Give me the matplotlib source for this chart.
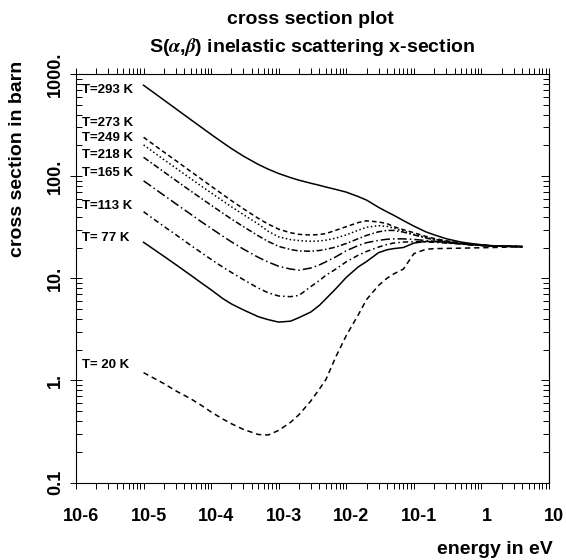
import matplotlib
matplotlib.use('Agg')
import matplotlib.pyplot as plt
import matplotlib.transforms as mtransforms
from matplotlib.ticker import FixedLocator, LogLocator, NullFormatter

plt.rcParams['font.family'] = ['Liberation Sans', 'DejaVu Sans']
plt.rcParams['font.weight'] = 'bold'
plt.rcParams['mathtext.fontset'] = 'stix'

# energy grid (eV)
energy = [1e-5, 2e-5, 3e-5, 5e-5, 7e-5, 1e-4, 1.5e-4, 2e-4, 3e-4, 5e-4, 7e-4,
          1e-3, 1.5e-3, 2e-3, 3e-3, 4e-3, 5e-3, 7e-3, 1e-2, 1.5e-2, 2e-2,
          3e-2, 4e-2, 5e-2, 7e-2, 0.1, 0.15, 0.2, 0.3, 0.5, 0.7, 1.0, 1.5,
          2.0, 3.0, 4.0]

# cross sections (barn) per temperature
xs_293 = [776, 556, 457, 357, 304, 256, 212, 186, 157, 130, 117,
          106, 96.6, 91.2, 85.1, 81.3, 78.2, 74.1, 69.7, 63.1, 58.2,
          49.5, 44.7, 41.5, 36.7, 32.4, 28.5, 26.6, 24.4, 22.6, 21.9, 21.3, 20.8,
          20.6, 20.5, 20.4]
xs_273 = [240, 172, 142, 111, 94.6, 79.8, 65.8, 57.5, 47.9, 38.5, 33.9,
          30.2, 27.9, 26.9, 26.5, 26.8, 27.4, 29.5, 32.0, 35.1, 36.5,
          35.6, 34.3, 32.0, 29.9, 27.9, 25.7, 24.5, 23.3, 22.1, 21.6, 21.1, 20.7,
          20.6, 20.5, 20.4]
xs_249 = [202, 145, 120, 94.4, 80.7, 68.5, 57, 50.1, 42, 33.9, 28.8,
          25.4, 23.9, 23.4, 23.0, 23.2, 23.6, 24.7, 26.6, 29.5, 31.6,
          32.7, 32.2, 31.0, 29.0, 26.9, 25.1, 24.1, 23.0, 22.0, 21.5, 21.1, 20.7,
          20.6, 20.5, 20.4]
xs_218 = [153, 110, 90.8, 71.4, 61.1, 51.9, 43.2, 38, 32, 26, 22.9,
          20.5, 19.1, 18.5, 18.4, 18.7, 19.2, 20.2, 21.9, 24.4, 26.3,
          28.5, 29.4, 29.4, 28.3, 26.6, 24.8, 23.8, 22.8, 21.9, 21.4, 21.0, 20.7,
          20.6, 20.5, 20.4]
xs_165 = [90, 64.9, 53.6, 42.3, 36.1, 30.8, 25.7, 22.7, 19.3, 16, 14.4,
          13.1, 12.3, 12.0, 12.6, 13.5, 14.5, 16.2, 18.6, 20.9, 22.3,
          23.5, 24.1, 24.3, 24.3, 24.0, 23.4, 23.0, 22.4, 21.7, 21.3, 20.9, 20.7,
          20.6, 20.5, 20.4]
xs_113 = [44.8, 32.2, 26.7, 21, 18, 15.3, 12.8, 11.4, 9.7, 8.0, 7.2,
          6.7, 6.6, 6.8, 8.3, 9.5, 10.7, 12.3, 14.5, 16.8, 18.3,
          20.2, 21.4, 22.1, 22.6, 22.8, 22.7, 22.5, 22.1, 21.6, 21.2, 20.9, 20.7,
          20.6, 20.5, 20.4]
xs_77 = [22.5, 16.4, 13.6, 10.7, 9.1, 7.7, 6.3, 5.6, 4.9, 4.2, 3.93,
         3.72, 3.8, 4.12, 4.68, 5.43, 6.3, 7.9, 10.2, 12.9, 14.6,
         17.8, 19.0, 19.5, 20.0, 22.1, 22.9, 22.9, 22.5, 21.8, 21.3, 21.0, 20.7,
         20.6, 20.5, 20.4]
xs_20 = [1.19, 0.93, 0.79, 0.66, 0.575, 0.49, 0.417, 0.376, 0.331, 0.295, 0.292,
         0.324, 0.389, 0.462, 0.631, 0.822, 1.02, 1.70, 2.75, 4.37, 6.2,
         8.5, 10.0, 11.0, 12.3, 17.4, 19.2, 19.5, 19.6, 19.7, 19.8, 19.9, 20.0,
         20.1, 20.3, 20.4]

temp_labels = ['T=293 K', 'T=273 K', 'T=249 K', 'T=218 K',
               'T=165 K', 'T=113 K', 'T= 77 K', 'T= 20 K']
label_xs = [697, 333, 234, 161, 108, 51.3, 24.9, 1.41]

x_ticks = [1e-6, 1e-5, 1e-4, 1e-3, 1e-2, 1e-1, 1, 10]
x_ticklabels = ['10-6', '10-5', '10-4', '10-3', '10-2', '10-1', '1', '10']
y_ticks = [0.1, 1, 10, 100, 1000]
y_ticklabels = ['0.1', '1.', '10.', '100.', '1000.']

series = [xs_293, xs_273, xs_249, xs_218, xs_165, xs_113, xs_77, xs_20]
styles = ['-', (0, (3, 2)), (0, (1, 1.6)), (0, (4, 1.6, 1, 1.6)),
          (0, (6, 2, 1, 2)), (0, (3.5, 2, 1, 2)), '-', (0, (3.5, 2.5))]

fig = plt.figure(figsize=(5.66, 5.60), dpi=100)
ax = fig.add_axes([76 / 566, 1 - 482.5 / 560, 473 / 566, 408.5 / 560])

for ys, ls in zip(series, styles):
    ax.plot(energy, ys, color='black', lw=1.1, linestyle=ls)

for txt, yv in zip(temp_labels, label_xs):
    ax.text(1.21e-6, yv, txt, fontsize=9.5, fontweight='bold', va='center', ha='left')

ax.set_xscale('log')
ax.set_yscale('log')
ax.set_xlim(1e-6, 10)
ax.set_ylim(0.1, 1000)

ax.xaxis.set_major_locator(FixedLocator(x_ticks))
ax.set_xticklabels(x_ticklabels, fontsize=13, fontweight='bold')
ax.xaxis.set_minor_locator(LogLocator(base=10, subs=range(2, 10), numticks=20))
ax.xaxis.set_minor_formatter(NullFormatter())
ax.yaxis.set_major_locator(FixedLocator(y_ticks))
ax.set_yticklabels(y_ticklabels, fontsize=13, fontweight='bold', rotation=90, va='center')
ax.yaxis.set_minor_locator(LogLocator(base=10, subs=range(2, 10), numticks=20))
ax.yaxis.set_minor_formatter(NullFormatter())

ax.tick_params(axis='x', which='both', direction='out', top=True, bottom=True,
               length=4.5, width=0.7, pad=14)
ax.tick_params(axis='y', which='major', direction='inout', left=True, right=False,
               length=9, width=0.7, pad=4)
ax.tick_params(axis='y', which='minor', direction='in', left=True, right=False,
               length=4.5, width=0.7)

# right-hand ticks point inward
sec = ax.secondary_yaxis('right')
sec.set_yscale('log')
sec.yaxis.set_major_locator(FixedLocator(y_ticks))
sec.yaxis.set_minor_locator(LogLocator(base=10, subs=range(2, 10), numticks=20))
sec.tick_params(which='major', direction='in', length=6, width=0.7, labelright=False)
sec.tick_params(which='minor', direction='in', length=4.5, width=0.7, labelright=False)
sec.spines['right'].set_linewidth(0.8)

shift = mtransforms.ScaledTranslation(5 / 100, 0, fig.dpi_scale_trans)
for lbl in ax.get_xticklabels():
    lbl.set_transform(lbl.get_transform() + shift)

for sp in ax.spines.values():
    sp.set_linewidth(0.8)

fig.text(310 / 566, 1 - 20 / 560, 'cross section plot', ha='center', va='center',
         fontsize=14, fontweight='bold')
fig.text(312 / 566, 1 - 47 / 560, r'S($\alpha$,$\beta$) inelastic scattering x-section',
         ha='center', va='center', fontsize=14, fontweight='bold')
fig.text(18 / 566, 1 - 159 / 560, 'cross section in barn', rotation=90,
         ha='center', va='center', fontsize=14, fontweight='bold')
fig.text(553 / 566, 1 - 550 / 560, 'energy in eV', ha='right', va='center',
         fontsize=14, fontweight='bold')

fig.savefig('out.png', dpi=100)
